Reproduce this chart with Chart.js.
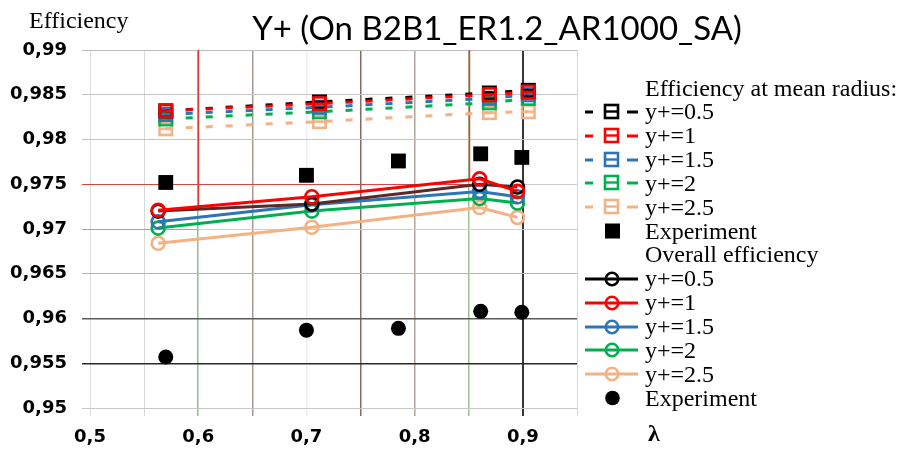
<!DOCTYPE html>
<html><head><meta charset="utf-8">
<script src="https://cdn.jsdelivr.net/npm/chart.js@4/dist/chart.umd.min.js"></script>
<style>
html,body{margin:0;padding:0;background:#fff;}
#wrap{position:relative;width:905px;height:450px;overflow:hidden;background:#fff;}
#c{position:absolute;left:0;top:0;}
.t{position:absolute;white-space:nowrap;color:#000;}
#title{font-family:Lato,"Open Sans",sans-serif;font-size:33px;left:0;width:994px;text-align:center;top:8px;line-height:38px;}
#ylab{font-family:"Liberation Serif","Times New Roman",serif;font-size:24px;left:29px;top:5px;line-height:30px;}
#xlab{font-family:"Liberation Serif","Times New Roman",serif;font-size:24px;font-weight:bold;left:648px;top:419px;line-height:28px;}
.lg{position:absolute;left:583px;height:24px;display:flex;align-items:center;font-family:"Liberation Serif","Times New Roman",serif;font-size:24px;white-space:nowrap;}
.lg svg{flex:none;margin-right:4px;}
.lg.h{left:645px;}
</style></head><body>
<div id="wrap">
<canvas id="c" width="905" height="450"></canvas>
<div id="title" class="t">Y+ (On B2B1_ER1.2_AR1000_SA)</div>
<div id="ylab" class="t">Efficiency</div>
<div id="xlab" class="t">λ</div>
<div id="legend"></div>
</div>
<script>
// ---------- data ----------
const seriesNames = ['y+=0.5', 'y+=1', 'y+=1.5', 'y+=2', 'y+=2.5'];
const lambdaMean = [0.570, 0.712, 0.869, 0.905];
const lambdaOverall = [0.563, 0.705, 0.860, 0.895];
const lambdaExp = [0.570, 0.700, 0.785, 0.861, 0.899];

const meanY05 = [0.9832, 0.9842, 0.9852, 0.9855];
const meanY1  = [0.9832, 0.9840, 0.9850, 0.9853];
const meanY15 = [0.9828, 0.9836, 0.9846, 0.9850];
const meanY2  = [0.9823, 0.9831, 0.9841, 0.9846];
const meanY25 = [0.9812, 0.9820, 0.9830, 0.9831];
const expMean = [0.9752, 0.9760, 0.9776, 0.9784, 0.9780];

const overY05 = [0.9720, 0.9728, 0.9750, 0.9747];
const overY1  = [0.9721, 0.9736, 0.9756, 0.9742];
const overY15 = [0.9708, 0.9727, 0.9742, 0.9736];
const overY2  = [0.9701, 0.9720, 0.9734, 0.9729];
const overY25 = [0.9684, 0.9702, 0.9724, 0.9713];
const expOverall = [0.9557, 0.9587, 0.9589, 0.9608, 0.9607];

const xTicks = [0.5, 0.55, 0.6, 0.65, 0.7, 0.75, 0.8, 0.85, 0.9, 0.95];
const xTickLabels = ['0,5', '', '0,6', '', '0,7', '', '0,8', '', '0,9', ''];
const yTicks = [0.95, 0.955, 0.96, 0.965, 0.97, 0.975, 0.98, 0.985, 0.99];
const yTickLabels = ['0,95', '0,955', '0,96', '0,965', '0,97', '0,975', '0,98', '0,985', '0,99'];

const legendHeaderMean = 'Efficiency at mean radius:';
const legendHeaderOverall = 'Overall efficiency';
const legendExperiment = 'Experiment';

// ---------- styles ----------
const meanColors = ['#000000', '#ff0000', '#2e75b6', '#00b050', '#f4b183'];
const overColors = ['#000000', '#ff0000', '#2e75b6', '#00b050', '#f4b183'];
const overLineColors = ['#5e2828', '#ff0000', '#2e75b6', '#00b050', '#f4b183'];
const overOrder = [1, 0, 2, 3, 4];
const xGridColors = ['#dcdcdc', '#d8d8d8', '#86c486', '#a89a96', '#efefef', '#8a6a64', '#b0a49e', '#9cc48a', '#3c3434', '#d8d8d8'];
const xGridWidths = [1, 1, 1.5, 1.5, 1.5, 1.5, 1.5, 1.5, 2, 1];
const yGridColors = ['#c8c8c8', '#2a2a2a', '#5a5a5a', '#b4b4b4', '#d0d0d0', '#cccccc', '#c4c4c4', '#c4c4c4', '#bcbcbc'];
const yGridWidths = [1, 1.5, 1.5, 1, 1, 1, 1, 1, 1];
const gridOverrides = [
  {axis: 'x', at: 0.6, from: 0.99, to: 0.9722, color: '#e03c3c', width: 1.5},
  {axis: 'x', at: 0.85, from: 0.99, to: 0.9756, color: '#d04848', width: 1.5},
  {axis: 'y', at: 0.975, from: 0.5, to: 0.85, color: '#d04848', width: 1},
  {axis: 'y', at: 0.97, from: 0.5, to: 0.6, color: '#7cc47c', width: 1}
];

function squareIcon(color) {
  const c = document.createElement('canvas');
  c.width = 17; c.height = 17;
  const g = c.getContext('2d');
  g.strokeStyle = color; g.lineWidth = 2.6;
  g.strokeRect(2.3, 2.3, 12.4, 12.4);
  g.beginPath(); g.moveTo(2.3, 8.5); g.lineTo(14.7, 8.5); g.stroke();
  return c;
}

const pts = (xs, ys) => xs.map((x, i) => ({x: x, y: ys[i]}));
const meanData = [meanY05, meanY1, meanY15, meanY2, meanY25];
const overData = [overY05, overY1, overY15, overY2, overY25];

const datasets = [];
datasets.push({label: legendExperiment, data: pts(lambdaExp, expMean), showLine: false,
  pointStyle: 'rect', pointRadius: 10.5, backgroundColor: '#000', borderColor: '#000', pointBorderWidth: 0, order: -2});
datasets.push({label: legendExperiment, data: pts(lambdaExp, expOverall), showLine: false,
  pointStyle: 'circle', pointRadius: 7.5, backgroundColor: '#000', borderColor: '#000', pointBorderWidth: 0, order: -2});
seriesNames.forEach((n, i) => {
  datasets.push({label: n, data: pts(lambdaMean, meanData[i]), showLine: true,
    borderColor: meanColors[i], borderWidth: 3, borderDash: [7, 13],
    pointStyle: squareIcon(meanColors[i]), pointRadius: 8, order: 10 + overOrder[i]});
});
seriesNames.forEach((n, i) => {
  datasets.push({label: n, data: pts(lambdaOverall, overData[i]), showLine: true,
    borderColor: overLineColors[i], borderWidth: 3,
    pointStyle: 'circle', pointRadius: 6.5, pointBorderWidth: 2.6,
    pointBorderColor: overColors[i], pointBackgroundColor: 'rgba(0,0,0,0)', order: overOrder[i]});
});

const overridePlugin = {
  id: 'gridOverrides',
  beforeDatasetsDraw(chart) {
    const g = chart.ctx, xs = chart.scales.x, ys = chart.scales.y;
    g.save();
    gridOverrides.forEach(o => {
      g.strokeStyle = o.color; g.lineWidth = o.width; g.beginPath();
      if (o.axis === 'x') {
        const px = Math.round(xs.getPixelForValue(o.at)) + 0.5;
        g.moveTo(px, ys.getPixelForValue(o.from)); g.lineTo(px, ys.getPixelForValue(o.to));
      } else {
        const py = Math.round(ys.getPixelForValue(o.at)) + 0.5;
        let x0 = xs.getPixelForValue(o.from);
        if (o.from === xs.min) x0 -= 8;
        g.moveTo(x0, py); g.lineTo(xs.getPixelForValue(o.to), py);
      }
      g.stroke();
    });
    g.restore();
  }
};

const tickFont = {family: '"DejaVu Sans", sans-serif', size: 18, weight: 'bold'};
new Chart(document.getElementById('c'), {
  type: 'scatter',
  data: {datasets: datasets},
  plugins: [overridePlugin],
  options: {
    responsive: false, animation: false, devicePixelRatio: 1,
    layout: {padding: {left: 0, top: 50, right: 328, bottom: 0}},
    plugins: {legend: {display: false}, tooltip: {enabled: false}, title: {display: false}},
    scales: {
      x: {type: 'linear', min: 0.5, max: 0.95,
        afterBuildTicks: s => { s.ticks = xTicks.map(v => ({value: v})); },
        afterFit: s => { s.height = 42; },
        ticks: {autoSkip: false, maxRotation: 0, padding: 11, color: '#000', font: tickFont,
          callback: (v, i) => xTickLabels[i]},
        grid: {color: c => xGridColors[c.index], lineWidth: c => xGridWidths[c.index], tickLength: 8},
        border: {display: false}
      },
      y: {type: 'linear', min: 0.95, max: 0.99,
        afterBuildTicks: s => { s.ticks = yTicks.map(v => ({value: v})); },
        afterFit: s => { s.width = 90; },
        ticks: {autoSkip: false, padding: 15, color: '#000', font: tickFont,
          callback: (v, i) => yTickLabels[i]},
        grid: {color: c => yGridColors[c.index], lineWidth: c => yGridWidths[c.index], tickLength: 8},
        border: {display: false}
      }
    }
  }
});

// ---------- HTML legend ----------
const lg = document.getElementById('legend');
const rowTop = 76, rowH = 23.85;
let row = 0;
function addRow(html, cls) {
  const d = document.createElement('div');
  d.className = 'lg' + (cls ? ' ' + cls : '');
  d.style.top = (rowTop + row * rowH) + 'px';
  d.innerHTML = html;
  lg.appendChild(d);
  row++;
}
function meanSym(col) {
  return `<svg width="58" height="20"><line x1="2" y1="10" x2="10" y2="10" stroke="${col}" stroke-width="3"/>` +
    `<rect x="22" y="3" width="13" height="13" fill="none" stroke="${col}" stroke-width="2.6"/>` +
    `<line x1="22" y1="9.5" x2="35" y2="9.5" stroke="${col}" stroke-width="2.4"/>` +
    `<line x1="44" y1="10" x2="55" y2="10" stroke="${col}" stroke-width="3"/></svg>`;
}
function overSym(col) {
  return `<svg width="58" height="20"><line x1="2" y1="10" x2="55" y2="10" stroke="${col}" stroke-width="3"/>` +
    `<circle cx="29" cy="10" r="6.2" fill="none" stroke="${col}" stroke-width="2.6"/></svg>`;
}
function expSym(shape) {
  return shape === 'rect'
    ? `<svg width="58" height="20"><rect x="22" y="2.5" width="15" height="15" fill="#000"/></svg>`
    : `<svg width="58" height="20"><circle cx="29.5" cy="10" r="7.3" fill="#000"/></svg>`;
}
addRow(legendHeaderMean, 'h');
seriesNames.forEach((n, i) => addRow(meanSym(meanColors[i]) + '<span>' + n + '</span>'));
addRow(expSym('rect') + '<span>' + legendExperiment + '</span>');
addRow(legendHeaderOverall, 'h');
seriesNames.forEach((n, i) => addRow(overSym(overColors[i]) + '<span>' + n + '</span>'));
addRow(expSym('circle') + '<span>' + legendExperiment + '</span>');
</script>
</body></html>
